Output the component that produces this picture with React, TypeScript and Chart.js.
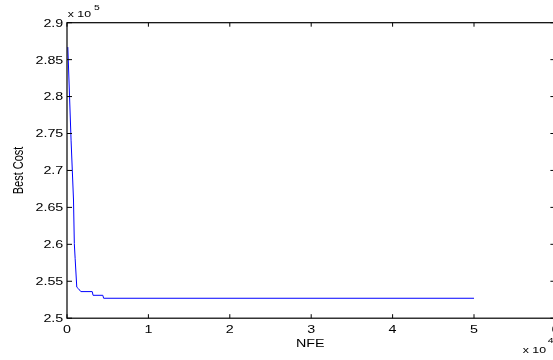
import { useEffect, useRef } from 'react';
import { Chart, registerables } from 'chart.js';

Chart.register(...registerables);

// Convergence history: number of function evaluations vs. best cost found
const nfe = [100, 500, 800, 900, 1000, 1200, 1400, 1700, 3100, 3200, 4400, 4500, 50000];
const bestCost = [286700, 274100, 266000, 260100, 258100, 254200, 254000, 253600, 253600, 253100, 253100, 252700, 252700];

// Axis tick labels (scaled by the exponents below)
const xTickLabels = ['0', '1', '2', '3', '4', '5', '6'];
const yTickLabels = ['2.5', '2.55', '2.6', '2.65', '2.7', '2.75', '2.8', '2.85', '2.9'];
const xExponent = 4;
const yExponent = 5;
const xTitle = 'NFE';
const yTitle = 'Best Cost';

const FONT = '"Liberation Sans", Arial, Helvetica, sans-serif';
const SX = 1.3; // horizontal text stretch

function stretchedText(
  ctx: CanvasRenderingContext2D,
  text: string,
  x: number,
  y: number,
  size: number,
  align: CanvasTextAlign,
  rotate = 0
) {
  ctx.save();
  ctx.translate(x, y);
  ctx.scale(SX, 1);
  if (rotate) ctx.rotate(rotate);
  ctx.font = `${size}px ${FONT}`;
  ctx.textAlign = align;
  ctx.textBaseline = 'alphabetic';
  ctx.fillStyle = '#000';
  ctx.fillText(text, 0, 0);
  ctx.restore();
}

const framePlugin = {
  id: 'matlabFrame',
  afterDatasetsDraw(chart: any) {
    const { ctx, chartArea: a, scales } = chart;
    const xs = scales.x;
    const ys = scales.y;
    ctx.save();
    ctx.strokeStyle = '#000';
    ctx.lineWidth = 1.2;
    ctx.strokeRect(a.left, a.top, a.right - a.left, a.bottom - a.top);

    ctx.lineWidth = 1;
    ctx.beginPath();
    xTickLabels.forEach((lbl) => {
      const px = xs.getPixelForValue(parseFloat(lbl) * 10 ** xExponent);
      ctx.moveTo(px, a.bottom);
      ctx.lineTo(px, a.bottom - 4);
      ctx.moveTo(px, a.top);
      ctx.lineTo(px, a.top + 4);
    });
    yTickLabels.forEach((lbl) => {
      const py = ys.getPixelForValue(parseFloat(lbl) * 10 ** yExponent);
      ctx.moveTo(a.left, py);
      ctx.lineTo(a.left + 5, py);
      ctx.moveTo(a.right, py);
      ctx.lineTo(a.right - 5, py);
    });
    ctx.stroke();
    ctx.restore();

    xTickLabels.forEach((lbl) => {
      const px = xs.getPixelForValue(parseFloat(lbl) * 10 ** xExponent);
      stretchedText(ctx, lbl, px, a.bottom + 14.5, 11, 'center');
    });
    yTickLabels.forEach((lbl) => {
      const py = ys.getPixelForValue(parseFloat(lbl) * 10 ** yExponent);
      stretchedText(ctx, lbl, a.left - 3.7, py + 3.9, 11, 'right');
    });

    // Axis titles
    stretchedText(ctx, xTitle, (a.left + a.right) / 2 - 1, a.bottom + 29, 11, 'center');
    stretchedText(ctx, yTitle, 22.7, (a.top + a.bottom) / 2, 11, 'center', -Math.PI / 2);

    // Exponent multipliers
    stretchedText(ctx, 'x 10', a.left + 0.7, 17.3, 9.5, 'left');
    stretchedText(ctx, String(yExponent), 94, 10, 8, 'left');
    stretchedText(ctx, 'x 10', 522.7, 353.3, 9.5, 'left');
    stretchedText(ctx, String(xExponent), 547.7, 343.3, 8, 'left');
  },
};

export default function App() {
  const canvasRef = useRef<HTMLCanvasElement | null>(null);

  useEffect(() => {
    const canvas = canvasRef.current;
    if (!canvas) return;
    const chart = new Chart(canvas, {
      type: 'line',
      data: {
        datasets: [
          {
            data: nfe.map((v, i) => ({ x: v, y: bestCost[i] })),
            borderColor: '#0000ff',
            borderWidth: 1,
            pointRadius: 0,
            tension: 0,
            fill: false,
          },
        ],
      },
      options: {
        animation: false,
        responsive: false,
        devicePixelRatio: 1,
        events: [],
        layout: { padding: { left: 67, top: 22.7, right: 4.6, bottom: 41.8 } },
        scales: {
          x: {
            type: 'linear',
            display: false,
            min: parseFloat(xTickLabels[0]) * 10 ** xExponent,
            max: parseFloat(xTickLabels[xTickLabels.length - 1]) * 10 ** xExponent,
          },
          y: {
            type: 'linear',
            display: false,
            min: parseFloat(yTickLabels[0]) * 10 ** yExponent,
            max: parseFloat(yTickLabels[yTickLabels.length - 1]) * 10 ** yExponent,
          },
        },
        plugins: { legend: { display: false }, tooltip: { enabled: false } },
      },
      plugins: [framePlugin],
    });
    return () => chart.destroy();
  }, []);

  return (
    <div
      style={{
        position: 'fixed',
        left: 0,
        top: 0,
        width: 553,
        height: 360,
        overflow: 'hidden',
        background: '#fff',
      }}
    >
      <canvas ref={canvasRef} width={560} height={360} style={{ display: 'block' }} />
    </div>
  );
}
